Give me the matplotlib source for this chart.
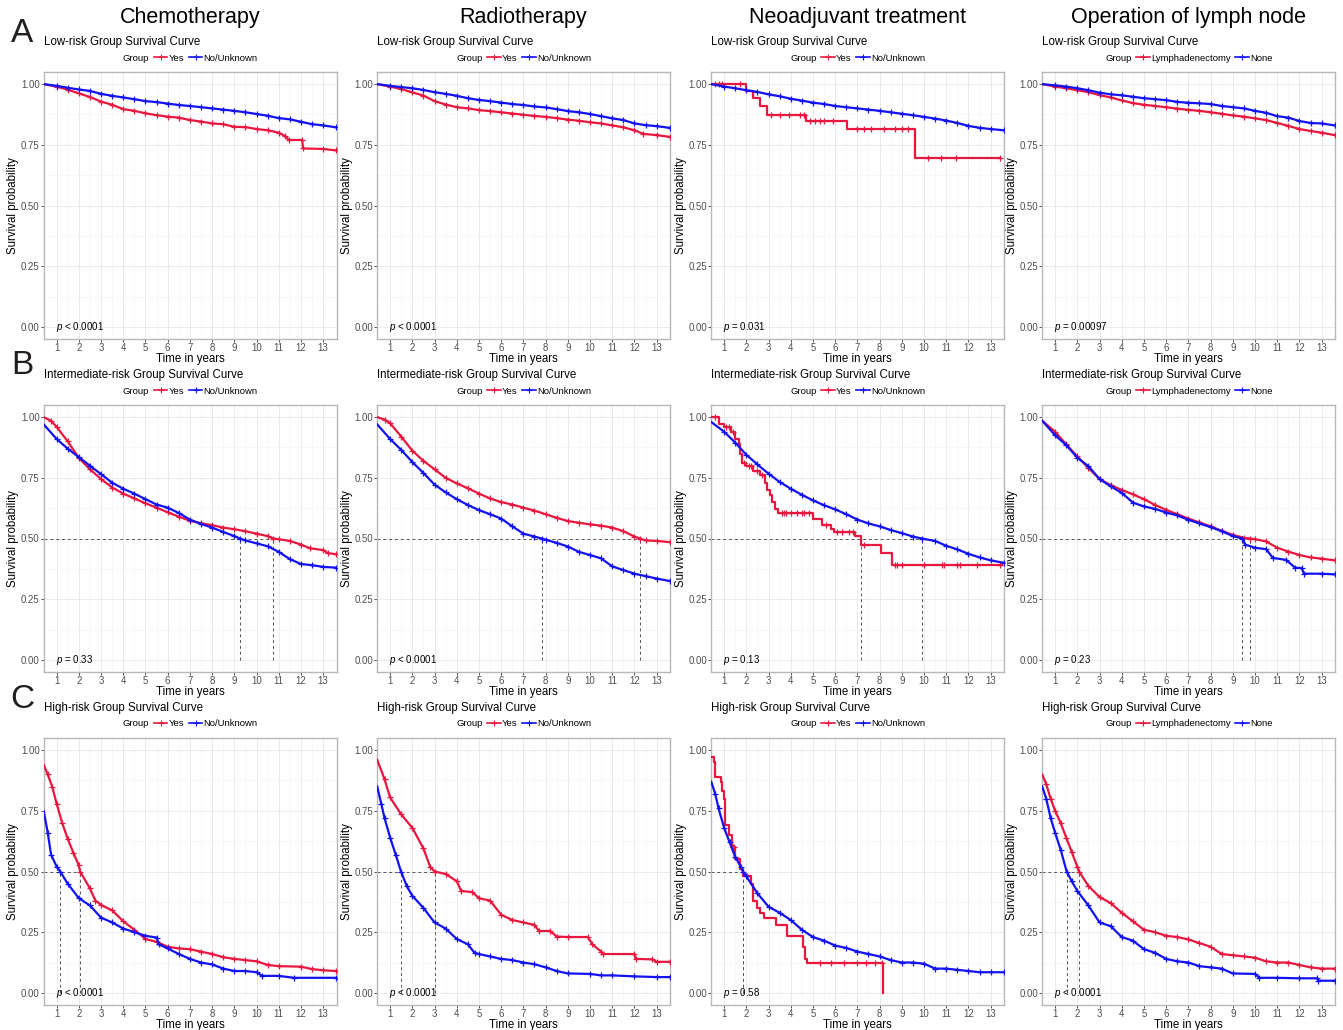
import numpy as np
import matplotlib.pyplot as plt
from matplotlib.lines import Line2D

plt.rcParams['font.family'] = 'Liberation Sans'
plt.rcParams['mathtext.fontset'] = 'custom'
plt.rcParams['mathtext.rm'] = 'Liberation Sans'
plt.rcParams['mathtext.it'] = 'Liberation Sans:italic'

RED = '#E8173F'
BLUE = '#1212F2'

treatments = ['Chemotherapy', 'Radiotherapy', 'Neoadjuvant treatment', 'Operation of lymph node']
risk_titles = ['Low-risk Group Survival Curve', 'Intermediate-risk Group Survival Curve',
               'High-risk Group Survival Curve']
row_letters = ['A', 'B', 'C']
group_labels = [['Yes', 'No/Unknown'], ['Yes', 'No/Unknown'], ['Yes', 'No/Unknown'],
                ['Lymphadenectomy', 'None']]
p_text = [['< 0.0001', '< 0.0001', '= 0.031', '= 0.00097'],
          ['= 0.33', '< 0.0001', '= 0.13', '= 0.23'],
          ['< 0.0001', '< 0.0001', '= 0.58', '< 0.0001']]

# survival curves, (time in years, survival probability)
# ---- low risk
chemo_low_yes = [(0.42, 1.0), (1, 0.99), (1.5, 0.977), (2, 0.962), (2.5, 0.947), (3, 0.928), (3.5, 0.915),
                 (4, 0.897), (4.5, 0.89), (5, 0.88), (5.5, 0.872), (6, 0.866), (6.5, 0.862), (7, 0.852),
                 (7.5, 0.846), (8, 0.838), (8.5, 0.835), (9, 0.824), (9.5, 0.823), (10, 0.815), (10.5, 0.81),
                 (11, 0.8), (11.3, 0.785), (11.45, 0.77), (12.05, 0.77), (12.1, 0.735), (13, 0.733), (13.58, 0.727)]
chemo_low_no = [(0.42, 1.0), (1, 0.993), (1.5, 0.985), (2, 0.978), (2.5, 0.972), (3, 0.96), (3.5, 0.952),
                (4, 0.945), (4.5, 0.938), (5, 0.93), (5.5, 0.926), (6, 0.92), (6.5, 0.914), (7, 0.91),
                (7.5, 0.905), (8, 0.9), (8.5, 0.895), (9, 0.89), (9.5, 0.884), (10, 0.877), (10.5, 0.87),
                (11, 0.86), (11.5, 0.855), (12, 0.845), (12.5, 0.835), (13, 0.83), (13.58, 0.822)]
radio_low_yes = [(0.42, 1.0), (1, 0.99), (1.5, 0.98), (2, 0.966), (2.5, 0.953), (3, 0.93), (3.5, 0.916),
                 (4, 0.905), (4.5, 0.9), (5, 0.893), (5.5, 0.889), (6, 0.884), (6.5, 0.879), (7, 0.874),
                 (7.5, 0.869), (8, 0.865), (8.5, 0.86), (9, 0.854), (9.5, 0.849), (10, 0.843), (10.5, 0.838),
                 (11, 0.83), (11.5, 0.822), (12, 0.81), (12.4, 0.795), (13, 0.79), (13.58, 0.783)]
radio_low_no = [(0.42, 1.0), (1, 0.993), (1.5, 0.988), (2, 0.983), (2.5, 0.976), (3, 0.967), (3.5, 0.96),
                (4, 0.952), (4.5, 0.942), (5, 0.935), (5.5, 0.93), (6, 0.924), (6.5, 0.918), (7, 0.914),
                (7.5, 0.908), (8, 0.904), (8.5, 0.897), (9, 0.889), (9.5, 0.884), (10, 0.877), (10.5, 0.868),
                (11, 0.859), (11.5, 0.852), (12, 0.838), (12.5, 0.831), (13, 0.827), (13.58, 0.82)]
neo_low_yes = [(0.42, 1.0), (2.0, 1.0), (2.0, 0.972), (2.3, 0.972), (2.3, 0.942), (2.63, 0.942), (2.63, 0.908),
               (2.93, 0.908), (2.93, 0.872), (4.7, 0.872), (4.7, 0.848), (6.52, 0.848), (6.52, 0.814),
               (9.58, 0.814), (9.58, 0.697), (13.42, 0.697)]
neo_low_yes_cens = [0.6, 0.75, 0.9, 1.7, 3.1, 3.5, 3.9, 4.4, 4.6, 4.85, 5.1, 5.3, 5.5, 5.9, 7.0, 7.3, 7.6,
                    8.2, 8.7, 9.0, 9.3, 10.2, 10.75, 11.45, 13.4]
neo_low_no = [(0.42, 1.0), (1, 0.99), (1.5, 0.983), (2, 0.975), (2.5, 0.968), (3, 0.958), (3.5, 0.95),
              (4, 0.94), (4.5, 0.932), (5, 0.924), (5.5, 0.918), (6, 0.91), (6.5, 0.905), (7, 0.9),
              (7.5, 0.895), (8, 0.89), (8.5, 0.884), (9, 0.878), (9.5, 0.872), (10, 0.865), (10.5, 0.858),
              (11, 0.85), (11.5, 0.84), (12, 0.828), (12.5, 0.82), (13, 0.815), (13.58, 0.81)]
lymph_low_yes = [(0.42, 1.0), (1, 0.99), (1.5, 0.983), (2, 0.975), (2.5, 0.967), (3, 0.955), (3.5, 0.945),
                 (4, 0.933), (4.5, 0.922), (5, 0.915), (5.5, 0.91), (6, 0.905), (6.5, 0.899), (7, 0.894),
                 (7.5, 0.89), (8, 0.884), (8.5, 0.878), (9, 0.871), (9.5, 0.866), (10, 0.859), (10.5, 0.852),
                 (11, 0.84), (11.5, 0.828), (12, 0.815), (12.5, 0.807), (13, 0.8), (13.58, 0.79)]
lymph_low_no = [(0.42, 1.0), (1, 0.995), (1.5, 0.99), (2, 0.983), (2.5, 0.975), (3, 0.965), (3.5, 0.958),
                (4, 0.954), (4.5, 0.948), (5, 0.942), (5.5, 0.938), (6, 0.934), (6.5, 0.927), (7, 0.923),
                (7.5, 0.921), (8, 0.918), (8.5, 0.91), (9, 0.905), (9.5, 0.9), (10, 0.89), (10.5, 0.882),
                (11, 0.868), (11.5, 0.862), (12, 0.848), (12.5, 0.84), (13, 0.838), (13.58, 0.83)]

# ---- intermediate risk
chemo_int_yes = [(0.42, 1.0), (0.75, 0.985), (1, 0.96), (1.5, 0.9), (2, 0.832), (2.5, 0.785), (3, 0.745),
                 (3.5, 0.71), (4, 0.685), (4.5, 0.665), (5, 0.645), (5.5, 0.627), (6, 0.608), (6.5, 0.59),
                 (7, 0.573), (7.5, 0.563), (8, 0.555), (8.5, 0.545), (9, 0.538), (9.5, 0.53), (10, 0.52),
                 (10.5, 0.51), (10.75, 0.5), (11, 0.497), (11.5, 0.49), (12, 0.475), (12.4, 0.46), (13, 0.452),
                 (13.2, 0.44), (13.58, 0.435)]
chemo_int_no = [(0.42, 0.97), (1, 0.91), (1.5, 0.87), (2, 0.835), (2.5, 0.8), (3, 0.765), (3.5, 0.73),
                (4, 0.705), (4.5, 0.685), (5, 0.662), (5.5, 0.64), (6, 0.627), (6.5, 0.605), (7, 0.578),
                (7.5, 0.56), (8, 0.545), (8.5, 0.527), (9, 0.51), (9.25, 0.5), (9.5, 0.492), (10, 0.48),
                (10.5, 0.468), (11, 0.445), (11.5, 0.415), (12, 0.395), (12.5, 0.39), (13, 0.383), (13.58, 0.38)]
radio_int_yes = [(0.42, 1.0), (0.75, 0.99), (1, 0.975), (1.5, 0.92), (2, 0.862), (2.5, 0.82), (3, 0.785),
                 (3.5, 0.75), (4, 0.727), (4.5, 0.707), (5, 0.685), (5.5, 0.665), (6, 0.65), (6.5, 0.64),
                 (7, 0.627), (7.5, 0.615), (8, 0.6), (8.5, 0.585), (9, 0.572), (9.5, 0.565), (10, 0.558),
                 (10.5, 0.553), (11, 0.545), (11.5, 0.53), (12, 0.508), (12.25, 0.5), (12.5, 0.492), (13, 0.49),
                 (13.58, 0.485)]
radio_int_no = [(0.42, 0.97), (1, 0.91), (1.5, 0.865), (2, 0.815), (2.5, 0.77), (3, 0.722), (3.5, 0.69),
                (4, 0.662), (4.5, 0.638), (5, 0.617), (5.5, 0.6), (6, 0.582), (6.5, 0.55), (7, 0.52),
                (7.5, 0.508), (7.82, 0.5), (8, 0.495), (8.5, 0.482), (9, 0.467), (9.5, 0.445), (10, 0.432),
                (10.5, 0.418), (11, 0.385), (11.5, 0.37), (12, 0.355), (12.5, 0.345), (13, 0.335), (13.58, 0.325)]
neo_int_yes = [(0.42, 1.0), (0.78, 1.0), (0.78, 0.97), (1.0, 0.97), (1.0, 0.96), (1.3, 0.96), (1.3, 0.94),
               (1.5, 0.94), (1.5, 0.91), (1.65, 0.91), (1.65, 0.89), (1.72, 0.89), (1.72, 0.85), (1.8, 0.85),
               (1.8, 0.81), (2.0, 0.81), (2.0, 0.8), (2.3, 0.8), (2.3, 0.78), (2.6, 0.78), (2.6, 0.76),
               (2.85, 0.76), (2.85, 0.73), (2.92, 0.73), (2.92, 0.7), (3.05, 0.7), (3.05, 0.68), (3.15, 0.68),
               (3.15, 0.65), (3.3, 0.65), (3.3, 0.62), (3.42, 0.62), (3.42, 0.605), (5.0, 0.605), (5.0, 0.58),
               (5.42, 0.58), (5.42, 0.555), (5.8, 0.555), (5.8, 0.54), (5.95, 0.54), (5.95, 0.525), (6.9, 0.525),
               (6.9, 0.51), (7.15, 0.51), (7.15, 0.475), (8.05, 0.475), (8.05, 0.44), (8.58, 0.44), (8.58, 0.39),
               (13.5, 0.39)]
neo_int_yes_cens = [0.6, 1.1, 1.2, 1.4, 1.9, 2.1, 2.2, 2.5, 2.7, 3.6, 3.7, 3.8, 4.0, 4.3, 4.5, 4.6, 4.8, 5.6,
                    6.1, 6.3, 6.6, 6.8, 7.3, 8.7, 8.8, 9.0, 10.0, 10.8, 10.9, 11.5, 11.6, 12.4, 13.4]
neo_int_no = [(0.42, 0.98), (1, 0.94), (1.5, 0.895), (2, 0.845), (2.5, 0.805), (3, 0.767), (3.5, 0.733),
              (4, 0.705), (4.5, 0.68), (5, 0.657), (5.5, 0.637), (6, 0.62), (6.5, 0.6), (7, 0.578),
              (7.5, 0.562), (8, 0.55), (8.5, 0.535), (9, 0.522), (9.5, 0.508), (9.9, 0.5), (10.5, 0.49),
              (11, 0.47), (11.5, 0.455), (12, 0.437), (12.5, 0.422), (13, 0.41), (13.58, 0.4)]
lymph_int_yes = [(0.42, 0.985), (1, 0.94), (1.5, 0.888), (2, 0.838), (2.5, 0.79), (3, 0.745), (3.5, 0.72),
                 (4, 0.7), (4.5, 0.682), (5, 0.662), (5.5, 0.638), (6, 0.618), (6.5, 0.6), (7, 0.582),
                 (7.5, 0.566), (8, 0.55), (8.5, 0.532), (9, 0.515), (9.5, 0.503), (9.76, 0.5), (10, 0.497),
                 (10.5, 0.488), (11, 0.462), (11.5, 0.446), (12, 0.432), (12.5, 0.422), (13, 0.417), (13.58, 0.41)]
lymph_int_no = [(0.42, 0.985), (1, 0.925), (1.5, 0.885), (2, 0.833), (2.5, 0.798), (3, 0.745), (3.5, 0.715),
                (4, 0.688), (4.5, 0.648), (5, 0.632), (5.5, 0.622), (6, 0.607), (6.5, 0.595), (7, 0.577),
                (7.5, 0.562), (8, 0.547), (8.5, 0.53), (9, 0.51), (9.43, 0.5), (9.55, 0.475), (10, 0.462),
                (10.5, 0.456), (10.8, 0.42), (11.4, 0.412), (11.8, 0.38), (12.1, 0.378), (12.2, 0.355),
                (13, 0.355), (13.58, 0.352)]

# ---- high risk
chemo_high_yes = [(0.42, 0.94), (0.6, 0.9), (0.8, 0.85), (1, 0.78), (1.25, 0.7), (1.5, 0.635), (1.75, 0.578),
                  (2, 0.525), (2.06, 0.5), (2.5, 0.43), (2.75, 0.38), (3, 0.362), (3.5, 0.34), (4, 0.295),
                  (4.5, 0.26), (5, 0.222), (5.5, 0.21), (6, 0.19), (6.5, 0.183), (7, 0.18), (7.5, 0.17),
                  (8, 0.16), (8.5, 0.147), (9, 0.14), (9.5, 0.135), (10, 0.13), (10.5, 0.115), (11, 0.11),
                  (12, 0.108), (12.5, 0.098), (13, 0.093), (13.58, 0.09)]
chemo_high_no = [(0.42, 0.75), (0.6, 0.66), (0.75, 0.57), (1, 0.52), (1.16, 0.5), (1.5, 0.45), (2, 0.39),
                 (2.5, 0.36), (3, 0.31), (3.5, 0.29), (4, 0.265), (4.5, 0.25), (5, 0.235), (5.5, 0.228),
                 (5.6, 0.2), (6, 0.183), (6.5, 0.16), (7, 0.14), (7.5, 0.125), (8, 0.117), (8.5, 0.1),
                 (9, 0.09), (9.5, 0.09), (10, 0.085), (10.25, 0.07), (11, 0.07), (11.7, 0.062), (13.58, 0.062)]
radio_high_yes = [(0.42, 0.96), (0.75, 0.88), (1, 0.805), (1.5, 0.735), (2, 0.68), (2.5, 0.595), (2.8, 0.52),
                  (3.0, 0.5), (3.5, 0.49), (4, 0.46), (4.2, 0.42), (4.7, 0.415), (5, 0.39), (5.5, 0.38),
                  (6, 0.322), (6.5, 0.3), (7, 0.29), (7.5, 0.28), (7.7, 0.255), (8.2, 0.255), (8.5, 0.232),
                  (9, 0.23), (9.9, 0.23), (10.1, 0.2), (10.5, 0.17), (10.6, 0.16), (12, 0.16), (12.05, 0.14),
                  (12.8, 0.138), (13, 0.128), (13.58, 0.128)]
radio_high_no = [(0.42, 0.85), (0.6, 0.78), (0.75, 0.72), (1, 0.64), (1.25, 0.57), (1.49, 0.5), (1.75, 0.44),
                 (2, 0.4), (2.5, 0.35), (3, 0.29), (3.5, 0.265), (4, 0.222), (4.5, 0.2), (4.8, 0.165),
                 (5, 0.16), (5.5, 0.15), (6, 0.14), (6.5, 0.135), (7, 0.125), (7.5, 0.118), (8, 0.105),
                 (8.5, 0.09), (9, 0.08), (10, 0.078), (10.5, 0.072), (11, 0.072), (12, 0.068), (13, 0.065),
                 (13.58, 0.065)]
neo_high_yes = [(0.42, 0.97), (0.55, 0.97), (0.55, 0.95), (0.6, 0.95), (0.6, 0.89), (0.85, 0.89), (0.85, 0.87),
                (0.9, 0.87), (0.9, 0.83), (1.0, 0.83), (1.0, 0.8), (1.05, 0.8), (1.05, 0.69), (1.2, 0.69),
                (1.2, 0.65), (1.35, 0.65), (1.35, 0.6), (1.5, 0.6), (1.5, 0.55), (1.7, 0.55), (1.7, 0.51),
                (1.83, 0.51), (1.83, 0.48), (2.2, 0.48), (2.2, 0.45), (2.3, 0.45), (2.3, 0.38), (2.5, 0.38),
                (2.5, 0.35), (2.6, 0.35), (2.6, 0.33), (2.8, 0.33), (2.8, 0.31), (3.35, 0.31), (3.35, 0.28),
                (3.85, 0.28), (3.85, 0.235), (4.55, 0.235), (4.55, 0.19), (4.65, 0.19), (4.65, 0.14),
                (4.72, 0.14), (4.72, 0.125), (8.15, 0.125), (8.15, 0.0)]
neo_high_yes_cens = [1.4, 1.45, 2.05, 5.3, 5.8, 6.4, 7.0, 7.4, 7.8, 8.1]
neo_high_no = [(0.42, 0.87), (0.6, 0.82), (0.75, 0.76), (1, 0.68), (1.25, 0.62), (1.5, 0.56), (1.75, 0.52),
               (1.85, 0.5), (2, 0.48), (2.5, 0.41), (3, 0.355), (3.5, 0.33), (4, 0.3), (4.5, 0.26), (5, 0.23),
               (5.5, 0.215), (6, 0.195), (6.5, 0.185), (7, 0.17), (7.5, 0.16), (8, 0.15), (8.5, 0.135),
               (9, 0.125), (9.5, 0.125), (10, 0.12), (10.5, 0.1), (11, 0.1), (11.5, 0.095), (12, 0.09),
               (12.5, 0.085), (13, 0.085), (13.58, 0.085)]
lymph_high_yes = [(0.42, 0.9), (0.6, 0.86), (0.8, 0.8), (1, 0.75), (1.25, 0.7), (1.5, 0.64), (1.75, 0.58),
                  (2, 0.52), (2.08, 0.5), (2.5, 0.44), (3, 0.395), (3.5, 0.37), (4, 0.33), (4.5, 0.295),
                  (5, 0.26), (5.5, 0.25), (6, 0.235), (6.5, 0.23), (7, 0.22), (7.5, 0.205), (8, 0.19),
                  (8.5, 0.16), (9, 0.155), (9.5, 0.15), (10, 0.145), (10.5, 0.13), (11, 0.125), (11.5, 0.125),
                  (12, 0.115), (12.5, 0.105), (13, 0.1), (13.58, 0.1)]
lymph_high_no = [(0.42, 0.85), (0.6, 0.8), (0.8, 0.72), (1, 0.66), (1.25, 0.59), (1.52, 0.5), (1.75, 0.46),
                 (2, 0.42), (2.5, 0.36), (3, 0.29), (3.5, 0.275), (4, 0.23), (4.5, 0.215), (5, 0.18),
                 (5.5, 0.165), (6, 0.14), (6.5, 0.13), (7, 0.125), (7.5, 0.11), (8, 0.105), (8.5, 0.1),
                 (9, 0.08), (10, 0.078), (10.2, 0.062), (11, 0.062), (12, 0.06), (12.8, 0.06), (12.85, 0.05),
                 (13.58, 0.05)]

# [row][col] -> (curve 1, censor times or None, curve 2)
panels = [
    [(chemo_low_yes, None, chemo_low_no), (radio_low_yes, None, radio_low_no),
     (neo_low_yes, neo_low_yes_cens, neo_low_no), (lymph_low_yes, None, lymph_low_no)],
    [(chemo_int_yes, None, chemo_int_no), (radio_int_yes, None, radio_int_no),
     (neo_int_yes, neo_int_yes_cens, neo_int_no), (lymph_int_yes, None, lymph_int_no)],
    [(chemo_high_yes, None, chemo_high_no), (radio_high_yes, None, radio_high_no),
     (neo_high_yes, neo_high_yes_cens, neo_high_no), (lymph_high_yes, None, lymph_high_no)],
]


def median_time(pts):
    t, s = pts[:, 0], pts[:, 1]
    idx = np.nonzero(s <= 0.5)[0]
    if len(idx) == 0:
        return None
    i = idx[0]
    if i == 0 or t[i] == t[i - 1]:
        return t[i]
    return t[i - 1] + (s[i - 1] - 0.5) / (s[i - 1] - s[i]) * (t[i] - t[i - 1])


def draw_curve(ax, pts, color, cens=None):
    ax.plot(pts[:, 0], pts[:, 1], color=color, lw=1.6, zorder=3)
    if cens is None:
        ax.plot(pts[1:, 0], pts[1:, 1], ls='none', marker='+', ms=3.8, mew=0.9, color=color, zorder=3)
    else:
        cy = np.interp(cens, pts[:, 0], pts[:, 1])
        ax.plot(cens, cy, ls='none', marker='+', ms=3.8, mew=0.9, color=color, zorder=3)


W, H = 1343, 1030
fig = plt.figure(figsize=(W / 100, H / 100), dpi=100)

col_left = [43.5, 377, 711, 1042]
row_top = [72, 405, 738]
pw, ph = 293, 267
x_lo, x_hi = 0.41, 13.6

for c, name in enumerate(treatments):
    fig.text((col_left[c] + pw / 2) / W, 1 - 17 / H, name, ha='center', va='center', fontsize=15.5)

for r in range(3):
    fig.text(22 / W, 1 - (row_top[r] - 39) / H, row_letters[r], ha='center', va='center',
             fontsize=24, color='#231F20')
    for c in range(4):
        ax = fig.add_axes([col_left[c] / W, 1 - (row_top[r] + ph) / H, pw / W, ph / H])
        curve1, cens1, curve2 = panels[r][c]
        p1 = np.array(curve1)
        p2 = np.array(curve2)

        ax.set_xlim(x_lo, x_hi)
        ax.set_ylim(-0.05, 1.05)
        ax.set_xticks(np.arange(1, 14))
        ax.set_xticks(np.arange(1.5, 13.5, 1.0), minor=True)
        ax.set_yticks([0, 0.25, 0.5, 0.75, 1.0])
        ax.set_yticklabels(['0.00', '0.25', '0.50', '0.75', '1.00'])
        ax.set_yticks([0.125, 0.375, 0.625, 0.875], minor=True)
        ax.grid(which='major', color='#EBEBEB', lw=0.7)
        ax.grid(which='minor', color='#F4F4F4', lw=0.45)
        ax.set_axisbelow(True)
        ax.tick_params(which='major', length=2, width=0.6, color='#333333', labelsize=6.9,
                       labelcolor='#4D4D4D', pad=0.8)
        ax.tick_params(which='minor', length=0)
        for sp in ax.spines.values():
            sp.set_color('#B8B8B8')
            sp.set_linewidth(1.0)

        # median survival guides
        meds = [m for m in (median_time(p1), median_time(p2)) if m is not None]
        if meds:
            ax.plot([x_lo, max(meds)], [0.5, 0.5], color='#555555', lw=0.7, ls=(0, (3, 3)), zorder=2)
            for m in meds:
                ax.plot([m, m], [0, 0.5], color='#555555', lw=0.7, ls=(0, (3, 3)), zorder=2)

        draw_curve(ax, p1, RED, cens1)
        draw_curve(ax, p2, BLUE)

        ax.text(0.97, 0.0, '$\\mathit{p}$ ' + p_text[r][c], fontsize=7, ha='left', va='center', zorder=4)
        ax.set_xlabel('Time in years', fontsize=8.3, labelpad=0)
        ax.set_ylabel('Survival probability', fontsize=8.3, labelpad=1)

        ax.text(0, 1 + 30 / ph, risk_titles[r], transform=ax.transAxes, fontsize=8.3,
                ha='left', va='center')
        handles = [Line2D([], [], lw=0),
                   Line2D([], [], color=RED, lw=1.2, marker='+', ms=4, mew=0.8),
                   Line2D([], [], color=BLUE, lw=1.2, marker='+', ms=4, mew=0.8)]
        ax.legend(handles, ['Group'] + group_labels[c], ncol=3, loc='center',
                  bbox_to_anchor=(0.5 - 7 / pw, 1 + 14 / ph), frameon=False, fontsize=6.8,
                  handlelength=1.4, handletextpad=0.15, columnspacing=0.5, borderpad=0, borderaxespad=0)

fig.savefig('out.png', dpi=100)
